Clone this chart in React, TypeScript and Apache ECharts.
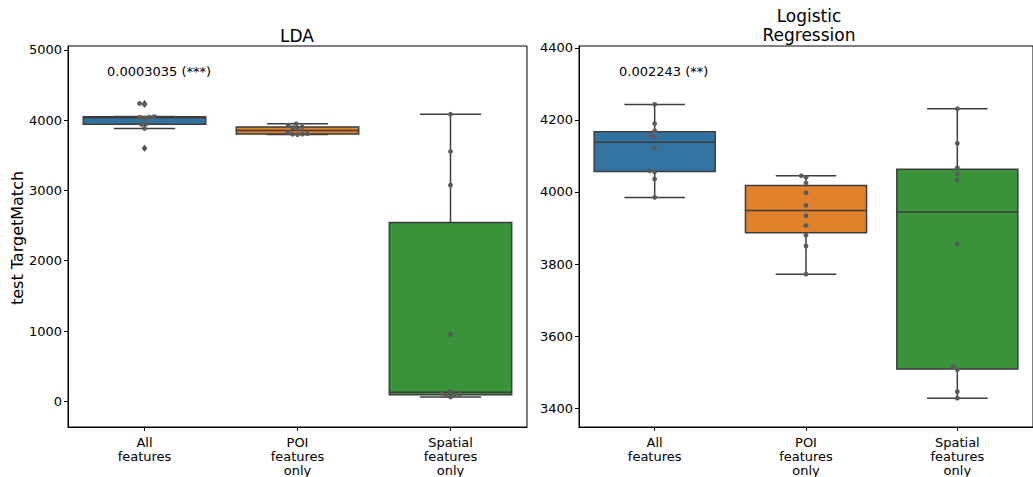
import React, { useEffect, useRef } from "react";
import * as echarts from "echarts";

const categories = ["All\nfeatures", "POI\nfeatures\nonly", "Spatial\nfeatures\nonly"];
const panelTitles = ["LDA", "Logistic\nRegression"];
const pValues = ["0.0003035 (***)", "0.002243 (**)"];
const yAxisLabel = "test TargetMatch";

// LDA scores per fold
const ldaAll = [3601, 3883, 3940, 3950, 4030, 4040, 4043, 4052, 4225, 4238];
const ldaPoi = [3795, 3800, 3803, 3808, 3830, 3880, 3895, 3905, 3930, 3948];
const ldaSpatial = [61, 80, 92, 100, 115, 141, 948, 3075, 3554, 4085];
// Logistic regression scores per fold
const lrAll = [3985, 4036, 4056, 4059, 4123, 4153, 4158, 4170, 4190, 4243];
const lrPoi = [3772, 3850, 3880, 3907, 3934, 3963, 3998, 4025, 4041, 4045];
const lrSpatial = [3428, 3446, 3507, 3515, 3856, 4033, 4050, 4067, 4135, 4231];

const ldaTicks = [0, 1000, 2000, 3000, 4000, 5000];
const lrTicks = [3400, 3600, 3800, 4000, 4200, 4400];
const ldaRange = [-366, 5056];
const lrRange = [3348, 4405];

const boxColors = ["#3274a1", "#e1812c", "#3a923a"];
const lineGray = "#3d3d3d";
const pointGray = "#5a5a5a";
const FONT = '"DejaVu Sans", "Liberation Sans", sans-serif';

function quantile(s: number[], p: number) {
  const h = (s.length - 1) * p;
  const lo = Math.floor(h);
  const hi = Math.ceil(h);
  return s[lo] + (h - lo) * (s[hi] - s[lo]);
}

function boxStats(vals: number[]) {
  const s = [...vals].sort((a, b) => a - b);
  const q1 = quantile(s, 0.25);
  const med = quantile(s, 0.5);
  const q3 = quantile(s, 0.75);
  const iqr = q3 - q1;
  const lo = Math.min(...s.filter((v) => v >= q1 - 1.5 * iqr));
  const hi = Math.max(...s.filter((v) => v <= q3 + 1.5 * iqr));
  const fliers = s.filter((v) => v < lo || v > hi);
  return { q1, med, q3, lo, hi, fliers };
}

function swarm(ys: number[], d: number): number[] {
  const order = ys.map((_, i) => i).sort((a, b) => ys[b] - ys[a]);
  const placed: { x: number; y: number }[] = [];
  const xs = new Array(ys.length).fill(0);
  for (const i of order) {
    const y = ys[i];
    const nb = placed.filter((p) => Math.abs(p.y - y) < d);
    const cands = [0];
    for (const n of nb) {
      const dx = Math.sqrt(d * d - (n.y - y) * (n.y - y));
      cands.push(n.x + dx, n.x - dx);
    }
    cands.sort((a, b) => Math.abs(a) - Math.abs(b) || a - b);
    let chosen = 0;
    for (const c of cands) {
      if (nb.every((n) => (n.x - c) ** 2 + (n.y - y) ** 2 >= d * d - 0.05)) {
        chosen = c;
        break;
      }
    }
    xs[i] = chosen;
    placed.push({ x: chosen, y });
  }
  return xs;
}

const panels = [
  { groups: [ldaAll, ldaPoi, ldaSpatial], ticks: ldaTicks, range: ldaRange },
  { groups: [lrAll, lrPoi, lrSpatial], ticks: lrTicks, range: lrRange },
];

export default function App() {
  const ref = useRef<HTMLDivElement>(null);
  useEffect(() => {
    if (!ref.current) return;
    const chart = echarts.init(ref.current, undefined, { renderer: "svg" });

    const grids = [
      { left: 68, top: 46, width: 459, height: 385 },
      { left: 579, top: 46, width: 460, height: 385 },
    ].map((g) => ({ ...g, show: true, borderColor: "#000", borderWidth: 1, containLabel: false }));

    const xAxis = panels.map((_, i) => ({
      type: "category",
      gridIndex: i,
      data: categories,
      boundaryGap: true,
      axisLine: { show: true, onZero: false, lineStyle: { color: "#000", width: 1 } },
      axisTick: { show: true, alignWithLabel: true, length: 4, lineStyle: { color: "#000" } },
      axisLabel: { color: "#000", fontSize: 13, lineHeight: 14, margin: 8, fontFamily: FONT, interval: 0 },
      splitLine: { show: false },
    }));

    const yAxis = panels.map((p, i) => ({
      type: "value",
      gridIndex: i,
      min: p.range[0],
      max: p.range[1],
      axisLine: { show: true, onZero: false, lineStyle: { color: "#000", width: 1 } },
      axisTick: { show: true, length: 4, customValues: p.ticks, lineStyle: { color: "#000" } },
      axisLabel: {
        color: "#000",
        fontSize: 13,
        margin: 6,
        fontFamily: FONT,
        customValues: p.ticks,
        formatter: (v: number) => String(v),
      },
      splitLine: { show: false },
    }));

    const series: any[] = [];
    panels.forEach((p, pi) => {
      const stats = p.groups.map(boxStats);
      series.push({
        type: "custom",
        xAxisIndex: pi,
        yAxisIndex: pi,
        data: stats.map((s, ci) => [ci, s.lo, s.q1, s.med, s.q3, s.hi]),
        encode: { x: 0, y: [1, 2, 3, 4, 5] },
        z: 2,
        renderItem: (params: any, api: any) => {
          const cat = api.value(0);
          const pLo = api.coord([cat, api.value(1)]);
          const pQ1 = api.coord([cat, api.value(2)]);
          const pMed = api.coord([cat, api.value(3)]);
          const pQ3 = api.coord([cat, api.value(4)]);
          const pHi = api.coord([cat, api.value(5)]);
          const band = api.size([1, 0])[0];
          const w = band * 0.8;
          const cx = pLo[0];
          const ls = { stroke: lineGray, lineWidth: 1.5 };
          const fl = stats[params.dataIndex].fliers.map((v) => {
            const c = api.coord([cat, v]);
            return {
              type: "polygon",
              shape: { points: [[cx, c[1] - 3.2], [cx + 2, c[1]], [cx, c[1] + 3.2], [cx - 2, c[1]]] },
              style: { fill: lineGray, stroke: lineGray, lineWidth: 0.5 },
            };
          });
          return {
            type: "group",
            children: [
              { type: "line", shape: { x1: cx, y1: pQ3[1], x2: cx, y2: pHi[1] }, style: ls },
              { type: "line", shape: { x1: cx, y1: pQ1[1], x2: cx, y2: pLo[1] }, style: ls },
              { type: "line", shape: { x1: cx - w / 4, y1: pHi[1], x2: cx + w / 4, y2: pHi[1] }, style: ls },
              { type: "line", shape: { x1: cx - w / 4, y1: pLo[1], x2: cx + w / 4, y2: pLo[1] }, style: ls },
              {
                type: "rect",
                shape: { x: cx - w / 2, y: pQ3[1], width: w, height: pQ1[1] - pQ3[1] },
                style: { fill: boxColors[params.dataIndex], stroke: lineGray, lineWidth: 1.5 },
              },
              { type: "line", shape: { x1: cx - w / 2, y1: pMed[1], x2: cx + w / 2, y2: pMed[1] }, style: ls },
              ...fl,
            ],
          };
        },
      });
      series.push({
        type: "custom",
        xAxisIndex: pi,
        yAxisIndex: pi,
        data: p.groups.map((g, ci) => [ci, ...g]),
        encode: { x: 0, y: [1, 2, 3, 4, 5, 6, 7, 8, 9, 10] },
        z: 3,
        renderItem: (params: any, api: any) => {
          const cat = api.value(0);
          const n = p.groups[params.dataIndex].length;
          const pts: number[][] = [];
          for (let k = 1; k <= n; k++) pts.push(api.coord([cat, api.value(k)]));
          const offs = swarm(pts.map((q) => q[1]), 5);
          return {
            type: "group",
            children: pts.map((q, k) => ({
              type: "circle",
              shape: { cx: q[0] + offs[k], cy: q[1], r: 2.4 },
              style: { fill: pointGray, stroke: "none" },
            })),
          };
        },
      });
    });

    const graphic: any[] = [
      {
        type: "text",
        x: 297,
        y: 44,
        style: { text: panelTitles[0], align: "center", verticalAlign: "bottom", font: `17px ${FONT}`, fill: "#000" },
      },
      {
        type: "text",
        x: 809,
        y: 44,
        style: {
          text: panelTitles[1],
          align: "center",
          verticalAlign: "bottom",
          font: `17px ${FONT}`,
          lineHeight: 19,
          fill: "#000",
        },
      },
      {
        type: "text",
        x: 107,
        y: 71,
        style: { text: pValues[0], align: "left", verticalAlign: "middle", font: `13px ${FONT}`, fill: "#000" },
      },
      {
        type: "text",
        x: 619,
        y: 71,
        style: { text: pValues[1], align: "left", verticalAlign: "middle", font: `13px ${FONT}`, fill: "#000" },
      },
      {
        type: "text",
        x: 17,
        y: 238,
        rotation: Math.PI / 2,
        style: { text: yAxisLabel, align: "center", verticalAlign: "middle", font: `16px ${FONT}`, fill: "#000" },
      },
    ];

    chart.setOption({
      animation: false,
      backgroundColor: "#fff",
      textStyle: { fontFamily: FONT },
      grid: grids,
      xAxis,
      yAxis,
      series,
      graphic,
    });
    return () => chart.dispose();
  }, []);
  return <div ref={ref} style={{ position: "absolute", left: 0, top: 0, width: 1033, height: 477 }} />;
}
